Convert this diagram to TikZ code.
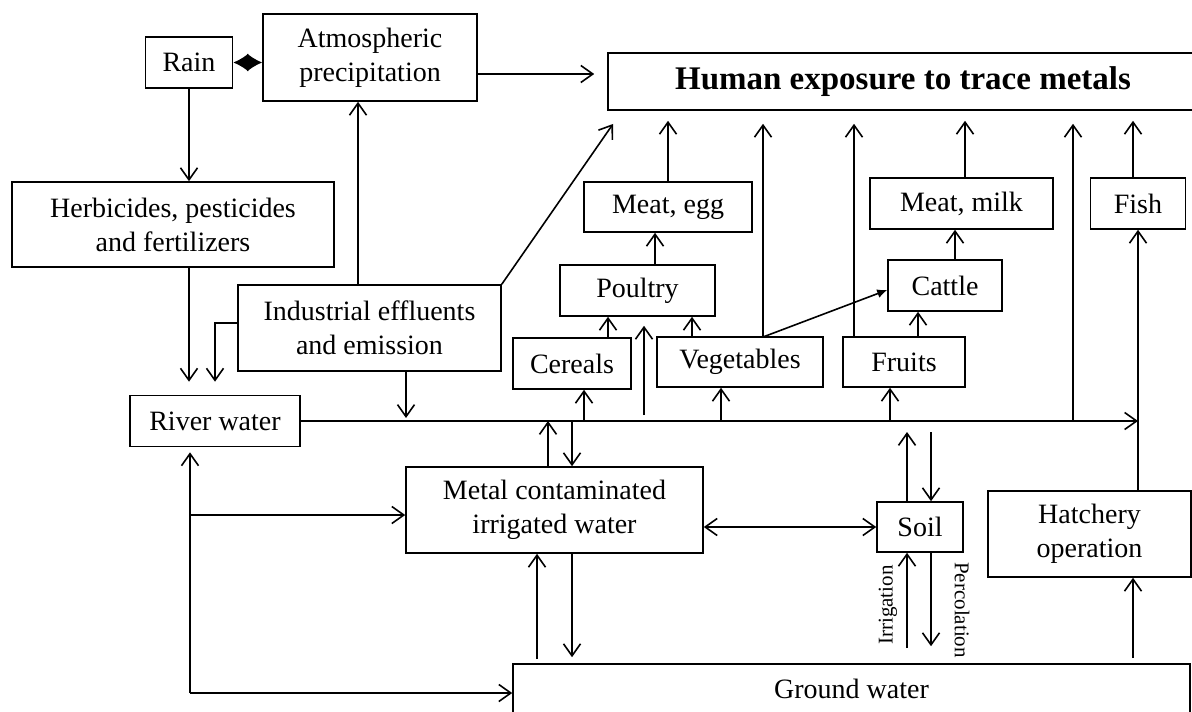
\documentclass[tikz,border=0pt]{standalone}
\usepackage{fontspec}
\setmainfont{Liberation Serif}
\usetikzlibrary{arrows.meta}

\begin{document}
\begin{tikzpicture}[x=0.5pt, y=-0.5pt, line width=0.8pt,
    >={Straight Barb[length=6pt,width=8.5pt]},
    box/.style={rectangle, draw, inner sep=0pt, align=center, font=\fontsize{14}{17}\selectfont},
    lbl/.style={inner sep=0pt, font=\fontsize{10.5}{12}\selectfont}]
    \useasboundingbox (0,0) rectangle (1192,711);

    \node (rain) [box, minimum width=43.5pt, minimum height=25.5pt] at (189,62.5) {Rain};
    \node (atm) [box, minimum width=107pt, minimum height=43.5pt] at (370,57.5) {Atmospheric\\precipitation};
    \node (human) [box, minimum width=295pt, minimum height=28.5pt, font=\fontsize{16.5}{19}\selectfont\bfseries] at (903,81.5) {Human exposure to trace metals};
    \node (herb) [box, minimum width=161pt, minimum height=42.5pt] at (173,224.5) {Herbicides, pesticides\\and fertilizers};
    \node (indus) [box, minimum width=131.5pt, minimum height=43pt] at (369.5,328) {Industrial effluents\\and emission};
    \node (river) [box, minimum width=85pt, minimum height=25.5pt] at (215,421) {River water};
    \node (meategg) [box, minimum width=84pt, minimum height=25pt] at (668,207) {Meat, egg};
    \node (poultry) [box, minimum width=77.5pt, minimum height=25.5pt] at (637.5,290.5) {Poultry};
    \node (cereals) [box, minimum width=59pt, minimum height=25.5pt] at (572,363.5) {Cereals};
    \node (veg) [box, minimum width=83pt, minimum height=25pt] at (740,362) {Vegetables};
    \node (fruits) [box, minimum width=61pt, minimum height=25pt] at (904,362) {Fruits};
    \node (cattle) [box, minimum width=57pt, minimum height=25.5pt] at (945,285.5) {Cattle};
    \node (meatmilk) [box, minimum width=91.5pt, minimum height=25.5pt] at (961.5,203.5) {Meat, milk};
    \node (fish) [box, minimum width=47.5pt, minimum height=25.5pt] at (1138,203.5) {Fish};
    \node (metal) [box, minimum width=148.5pt, minimum height=43pt] at (554.5,510) {Metal contaminated\\irrigated water};
    \node (soil) [box, minimum width=43pt, minimum height=25pt] at (920,527) {Soil};
    \node (hatch) [box, minimum width=101.5pt, minimum height=43pt] at (1089.5,534) {Hatchery\\operation};
    \node (ground) [box, minimum width=338.5pt, minimum height=25pt] at (851.5,689) {Ground water};
    \node (irrl) [lbl, rotate=90] at (888,605) {Irrigation};
    \node (percl) [lbl, rotate=-90] at (962,610) {Percolation};

    % upper left
    \draw [{Latex[length=7.5pt,width=9pt]}-{Latex[length=7.5pt,width=9pt]}] (rain.east) -- (rain.east -| atm.west);
    \draw [->] (rain.south) -- (rain.south |- herb.north);
    \draw [->, shorten >=6.5pt] (rain.south |- herb.south) -- (rain.south |- river.north);
    \draw [->, shorten >=6.5pt] ([yshift=2.5pt]indus.west) -| (river.north);
    \coordinate (ia) at (358,285);
    \draw [->] (ia) -- (ia |- atm.south);
    \coordinate (ah) at (477,74);
    \draw [->, shorten >=6.5pt] (ah) -- (ah -| human.west);
    \coordinate (ih) at (613,124);
    \draw [->] (indus.north east) -- (ih);

    % river line and its taps
    \draw [->] (river.east) -- (river.east -| fish.south);
    \coordinate (tInd) at (406,421);
    \coordinate (tMetUp) at (548,421);
    \coordinate (tMetDn) at (572,421);
    \coordinate (tCer) at (584,421);
    \coordinate (tPou) at (644,421);
    \coordinate (tVeg) at (721,421);
    \coordinate (tFru) at (890,421);
    \coordinate (tSoUp) at (907,421);
    \coordinate (tSoDn) at (931,421);
    \coordinate (tHum) at (1073,421);
    \draw [->, shorten >=1.5pt] (tInd |- indus.south) -- (tInd);
    \draw [->] (tMetUp |- metal.north) -- (tMetUp);
    \draw [->] (tMetDn) -- (tMetDn |- metal.north);
    \draw [->] (tCer) -- (tCer |- cereals.south);
    \draw [->, shorten <=3pt, shorten >=4.5pt] (tPou) -- (tPou |- poultry.south);
    \draw [->] (tVeg) -- (tVeg |- veg.south);
    \draw [->] (tFru) -- (tFru |- fruits.south);
    \draw [->, shorten >=5.5pt] (tSoUp |- soil.north) -- (tSoUp);
    \draw [->, shorten <=5.5pt] (tSoDn) -- (tSoDn |- soil.north);
    \draw [->, shorten >=6.5pt] (tHum) -- (tHum |- human.south);

    % food chain
    \coordinate (cp) at (608,338);
    \draw [->] (cp) -- (cp |- poultry.south);
    \coordinate (vp) at (692,337);
    \draw [->] (vp) -- (vp |- poultry.south);
    \coordinate (pm) at (655,265);
    \draw [->] (pm) -- (pm |- meategg.south);
    \draw [->, shorten >=5pt] (meategg) -- (meategg |- human.south);
    \coordinate (vTop) at (763,337);
    \draw [->, shorten >=6.5pt] (vTop) -- (vTop |- human.south);
    \draw [-{Latex[length=5pt,width=4.5pt]}] (vTop) -- ([yshift=-2.25pt]cattle.west);
    \coordinate (fTop) at (854,337);
    \draw [->, shorten >=6.5pt] (fTop) -- (fTop |- human.south);
    \coordinate (fc) at (918,337);
    \draw [->] (fc) -- (fc |- cattle.south);
    \coordinate (cm) at (955,260);
    \draw [->] (cm) -- (cm |- meatmilk.south);
    \coordinate (mh) at (965,178);
    \draw [->, shorten >=5pt] (mh) -- (mh |- human.south);
    \coordinate (fh) at (1133,178);
    \draw [->, shorten >=5pt] (fh) -- (fh |- human.south);
    \draw [->] (fish.south |- hatch.north) -- (fish.south);

    % water below
    \draw [<->] (soil.west) -- (soil.west -| metal.east);
    \coordinate (gl) at (190,693);
    \coordinate (ml) at (190,515);
    \draw [->, shorten >=2.5pt] (gl) -- (gl |- river.south);
    \draw [->] (gl) -- (gl -| ground.west);
    \draw [->] (ml) -- (ml -| metal.west);
    \coordinate (gm) at (537,664);
    \draw [->, shorten <=2.5pt] (gm) -- (gm |- metal.south);
    \coordinate (mg) at (572,553);
    \draw [->, shorten >=3pt] (mg) -- (mg |- ground.north);
    \coordinate (irr) at (907,664);
    \draw [->, shorten <=8pt] (irr) -- (irr |- soil.south);
    \coordinate (perc) at (931,552);
    \draw [->, shorten >=8.5pt] (perc) -- (perc |- ground.north);
    \coordinate (gh) at (1133,664);
    \draw [->, shorten <=3pt] (gh) -- (gh |- hatch.south);
\end{tikzpicture}
\end{document}
